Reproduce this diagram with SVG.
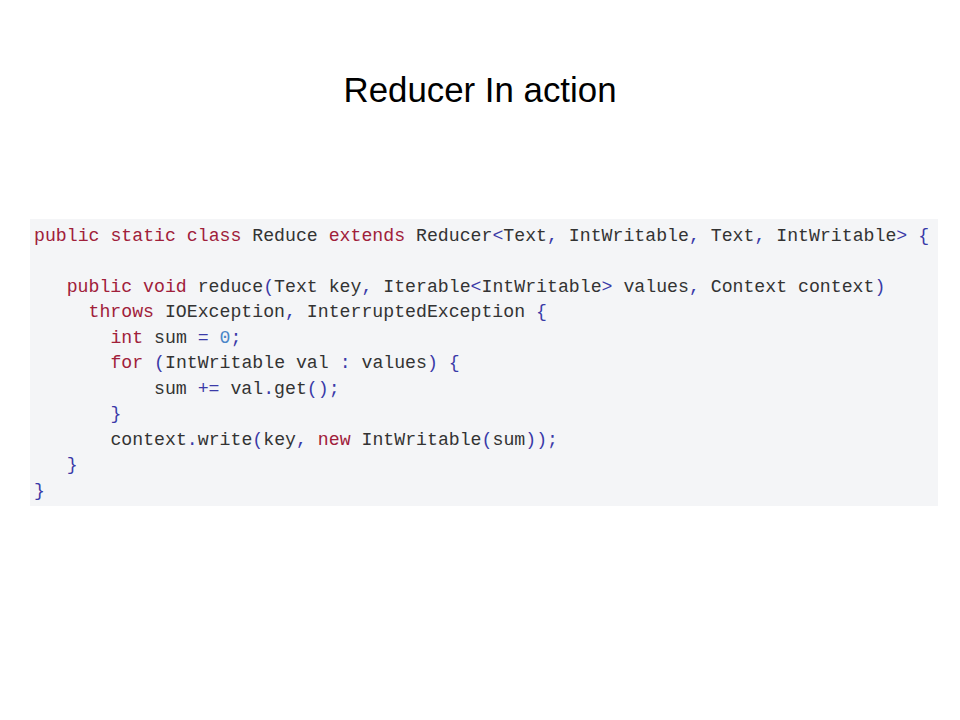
<svg xmlns="http://www.w3.org/2000/svg" width="960" height="720" viewBox="0 0 960 720">
<style>
.title{font-family:"Liberation Sans",Arial,sans-serif;font-size:35px;fill:#000}
.code{font-family:"Liberation Mono","Courier New",monospace;font-size:18.2px;fill:#333333;white-space:pre}
.k{fill:#a0203a}
.p{fill:#3a3aa8}
.n{fill:#4a86c8}
</style>
<rect width="960" height="720" fill="#ffffff"/>
<g id="title"><text class="title" x="480" y="102" text-anchor="middle" textLength="273" lengthAdjust="spacingAndGlyphs">Reducer In action</text></g>
<g id="code">
<rect x="30" y="219" width="908" height="287" fill="#f4f5f7"/>
<text class="code" xml:space="preserve">
<tspan x="34" y="241"><tspan class="k">public static class</tspan> Reduce <tspan class="k">extends</tspan> Reducer<tspan class="p">&lt;</tspan>Text<tspan class="p">,</tspan> IntWritable<tspan class="p">,</tspan> Text<tspan class="p">,</tspan> IntWritable<tspan class="p">&gt; {</tspan></tspan>
<tspan x="66.7" y="291.5"><tspan class="k">public void</tspan> reduce<tspan class="p">(</tspan>Text key<tspan class="p">,</tspan> Iterable<tspan class="p">&lt;</tspan>IntWritable<tspan class="p">&gt;</tspan> values<tspan class="p">,</tspan> Context context<tspan class="p">)</tspan></tspan>
<tspan x="88.5" y="317"><tspan class="k">throws</tspan> IOException<tspan class="p">,</tspan> InterruptedException <tspan class="p">{</tspan></tspan>
<tspan x="110.4" y="342.5"><tspan class="k">int</tspan> sum <tspan class="p">=</tspan> <tspan class="n">0</tspan><tspan class="p">;</tspan></tspan>
<tspan x="110.4" y="368"><tspan class="k">for</tspan> <tspan class="p">(</tspan>IntWritable val <tspan class="p">:</tspan> values<tspan class="p">) {</tspan></tspan>
<tspan x="154" y="393.5">sum <tspan class="p">+=</tspan> val<tspan class="p">.</tspan>get<tspan class="p">();</tspan></tspan>
<tspan x="110.4" y="419" class="p">}</tspan>
<tspan x="110.4" y="444.5">context<tspan class="p">.</tspan>write<tspan class="p">(</tspan>key<tspan class="p">,</tspan> <tspan class="k">new</tspan> IntWritable<tspan class="p">(</tspan>sum<tspan class="p">));</tspan></tspan>
<tspan x="66.7" y="470" class="p">}</tspan>
<tspan x="34" y="495.5" class="p">}</tspan>
</text>
</g>
</svg>
